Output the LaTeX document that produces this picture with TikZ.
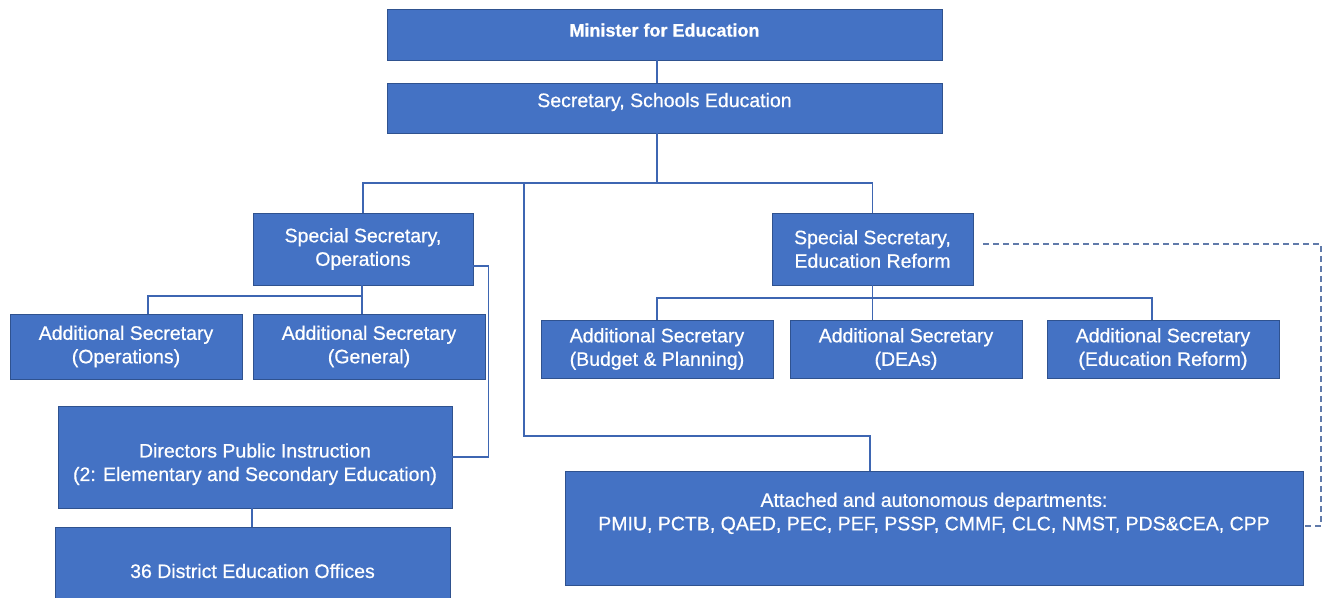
\documentclass[tikz,border=0pt]{standalone}
\usepackage{fontspec}
\setmainfont{Liberation Sans}
\newfontfamily\chartfont{Liberation Sans}[FakeBold=0.6]
\definecolor{boxblue}{RGB}{68,114,196}
\definecolor{boxedge}{RGB}{47,82,143}
\definecolor{linkblue}{RGB}{62,102,178}
\definecolor{dashgrey}{RGB}{96,122,170}

\begin{document}
\begin{tikzpicture}[x=1pt,y=-1pt]
\tikzstyle{box} = [draw=boxedge, line width=0.8pt, fill=boxblue, text=white, align=center, inner sep=2pt, font=\chartfont\fontsize{19.5}{23.5}\selectfont]
\tikzstyle{line} = [draw=linkblue, line width=1.4pt]
\tikzstyle{dashline} = [draw=dashgrey, line width=1.2pt, dash pattern=on 6pt off 4pt]

\useasboundingbox (0,0) rectangle (1325,597);
\clip (0,0) rectangle (1325,597);

% top of the chart
\node[box, minimum width=555pt, minimum height=51pt, text depth=9pt] (minister) at (664.5,34.5) {\fontsize{18}{22}\selectfont\bfseries Minister for Education};
\node[box, minimum width=555pt, minimum height=50pt, text depth=16pt] (secretary) at (664.5,108) {Secretary, Schools Education};

% special secretaries
\node[box, minimum width=220pt, minimum height=72pt] (ssops) at (363,249) {Special Secretary,\\Operations};
\node[box, minimum width=201pt, minimum height=72pt] (ssreform) at (872.5,249) {Special Secretary,\\Education Reform};

% operations wing
\node[box, minimum width=232pt, minimum height=65pt] (asops) at (126,346.5) {Additional Secretary\\(Operations)};
\node[box, minimum width=232pt, minimum height=65pt] (asgen) at (369,346.5) {Additional Secretary\\(General)};
\node[box, minimum width=394pt, minimum height=102pt, text height=52pt] (dpi) at (255,457) {Directors Public Instruction\\(2: Elementary and Secondary Education)};
\node[box, minimum width=395pt, minimum height=88pt] (deo) at (252.5,571) {36 District Education Offices};

% reform wing
\node[box, minimum width=232pt, minimum height=58pt] (asbudget) at (657,349) {Additional Secretary\\(Budget \& Planning)};
\node[box, minimum width=232pt, minimum height=58pt] (asdeas) at (906,349) {Additional Secretary\\(DEAs)};
\node[box, minimum width=232pt, minimum height=58pt] (asreform) at (1163,349) {Additional Secretary\\(Education Reform)};
\node[box, minimum width=738pt, minimum height=114pt, text depth=33pt] (attached) at (934,528) {Attached and autonomous departments:\\PMIU, PCTB, QAED, PEC, PEF, PSSP, CMMF, CLC, NMST, PDS\&CEA, CPP};

% connectors
\coordinate (trunk) at (657,183);
\coordinate (tap) at (524,183);
\coordinate (bend) at (870,436);
\coordinate (opsbus) at (362,296);
\coordinate (reformbus) at (872.5,298);
\coordinate (dashcorner) at (1321,526);

\path[line] (minister.south -| trunk) -- (secretary.north -| trunk);
\path[line] (secretary.south -| trunk) -- (trunk);
\path[line] (ssops.north) |- (trunk) -| (ssreform.north);
\path[line] (tap) |- (bend) -- (bend |- attached.north);
\path[line] ([yshift=-17pt]ssops.east) -- ++(15,0) |- (dpi.east);
\path[line] (ssops.south -| opsbus) -- ([xshift=-7pt]asgen.north);
\path[line] ([xshift=22pt]asops.north) |- (opsbus);
\path[line] (deo.north -| 252,0) -- (dpi.south -| 252,0);
\path[line] (ssreform.south) -- (ssreform.south |- asdeas.north);
\path[line] (asbudget.north) |- (reformbus) -| ([xshift=-11pt]asreform.north);
\path[dashline] ([xshift=10pt,yshift=5pt]ssreform.east) -| (dashcorner) -- (dashcorner -| attached.east);

\end{tikzpicture}
\end{document}
